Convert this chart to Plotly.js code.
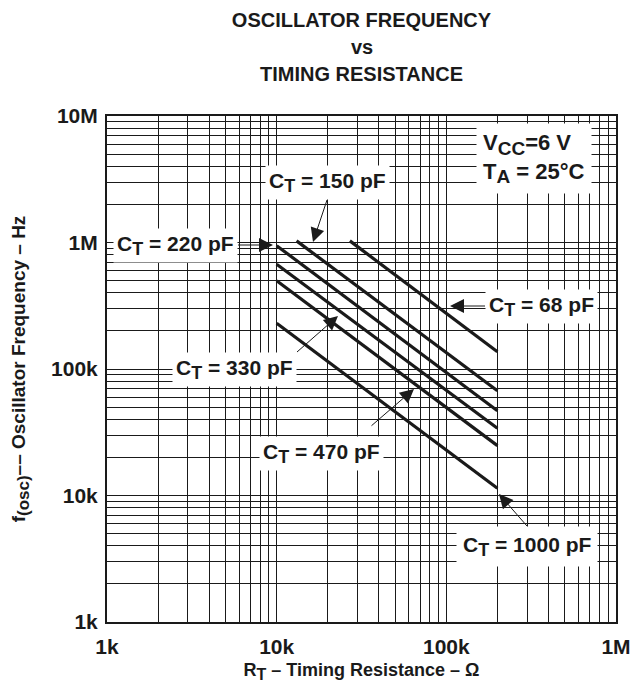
<!DOCTYPE html>
<html>
<head>
<meta charset="utf-8">
<script src="https://cdn.plot.ly/plotly-3.0.1.min.js"></script>
<style>html,body{margin:0;padding:0;background:#fff;}#chart{width:632px;height:690px;}</style>
</head>
<body>
<div id="chart"></div>
<script>
// Timing capacitance of each curve (pF)
var capLabels = ["68", "150", "220", "330", "470", "1000"];
// Start and end of each curve: timing resistance (ohm) and oscillator frequency (Hz)
var rStart = [27000, 13100, 10000, 10000, 10000, 10000];
var fStart = [1030000, 1030000, 944000, 672000, 499000, 230000];
var rEnd = [200000, 200000, 200000, 200000, 200000, 200000];
var fEnd = [137000, 67400, 46800, 34000, 24800, 11400];

// Tick values / labels
var xTickVals = [1e3, 1e4, 1e5, 1e6];
var xTickText = ["1k", "10k", "100k", "1M"];
var yTickVals = [1e3, 1e4, 1e5, 1e6, 1e7];
var yTickText = ["1k", "10k", "100k", "1M", "10M"];

function minorVals(lo, hi) {
  var out = [];
  for (var d = lo; d < hi; d *= 10) {
    for (var k = 2; k <= 9; k++) out.push(d * k);
  }
  return out;
}

var FONT = "Liberation Sans, Arial, Helvetica, sans-serif";
var INK = "#1a1a1a";

function sub(t, size) {
  return "<sub><span style='font-size:" + size + "px'>" + t + "</span></sub>";
}

var traces = capLabels.map(function (c, i) {
  return {
    x: [rStart[i], rEnd[i]],
    y: [fStart[i], fEnd[i]],
    mode: "lines",
    type: "scatter",
    name: "CT = " + c + " pF",
    line: { color: INK, width: 3.2 },
    hoverinfo: "x+y+name",
    showlegend: false
  };
});

// annotation placement helpers (plot area: x 107..616 px for 1k..1M, y 622..116 px for 1k..10M)
function px2x(px) { return 3 + (px - 107) / 169.67; }
function px2y(py) { return 3 + (622 - py) / 126.5; }

var labelFont = { family: FONT, size: 21, color: INK, weight: "bold" };
function ct(c) { return "C" + sub("T", 18) + " = " + c + " pF"; }

function label(txt, cx, cy) {
  return {
    text: txt, xref: "x", yref: "y", x: px2x(cx), y: px2y(cy),
    showarrow: false, bgcolor: "#fff", borderpad: 3,
    font: labelFont, xanchor: "center", yanchor: "middle"
  };
}
// label attached to an arrow: tip (hx,hy), tail (tx,ty), label anchored at tail
function arrowLabel(txt, hx, hy, tx, ty, xa, ya, pad) {
  return {
    text: txt, xref: "x", yref: "y", x: px2x(hx), y: px2y(hy),
    ax: tx - hx, ay: ty - hy,
    showarrow: true, arrowhead: 2, arrowsize: 2.8, arrowwidth: 1,
    arrowcolor: INK, standoff: 0,
    bgcolor: "#fff", borderpad: pad || 3,
    font: labelFont, xanchor: xa, yanchor: ya
  };
}
function arrow(hx, hy, tx, ty) {
  return {
    text: "", xref: "x", yref: "y", x: px2x(hx), y: px2y(hy),
    ax: tx - hx, ay: ty - hy,
    showarrow: true, arrowhead: 2, arrowsize: 2.8, arrowwidth: 1,
    arrowcolor: INK, standoff: 0
  };
}

var annotations = [
  arrowLabel(ct("150"), 313, 242, 327, 200, "center", "bottom"),
  arrowLabel(ct("220"), 273, 245, 238, 245, "right", "middle"),
  arrowLabel(ct("68"), 450, 306, 485, 306, "left", "middle"),
  arrowLabel(ct("330"), 338, 316, 297, 352, "right", "top"),
  label(ct("470"), 321, 453),
  arrow(414, 389, 370, 427),
  arrowLabel(ct("1000"), 499, 494, 527, 526, "center", "top", 6),
  {
    text: "V" + sub("CC", 19) + "=6 V<br>T" + sub("A", 19) + " = 25°C",
    xref: "x", yref: "y", x: px2x(534), y: px2y(158),
    showarrow: false, bgcolor: "#fff", borderpad: 6,
    font: { family: FONT, size: 22, color: INK, weight: "bold" },
    align: "left", xanchor: "center", yanchor: "middle"
  },
  {
    text: "vs", xref: "paper", yref: "paper", x: 0.5, y: (622 - 47) / 506,
    showarrow: false, xanchor: "center", yanchor: "middle",
    font: { family: FONT, size: 20, color: INK, weight: "bold" }
  },
  {
    text: "TIMING RESISTANCE", xref: "paper", yref: "paper", x: 0.5, y: (622 - 74) / 506,
    showarrow: false, xanchor: "center", yanchor: "middle",
    font: { family: FONT, size: 20, color: INK, weight: "bold" }
  }
];

var axisCommon = {
  type: "log",
  showline: true, mirror: true, linecolor: INK, linewidth: 2,
  showgrid: true, gridcolor: INK, gridwidth: 1,
  zeroline: false, ticks: "",
  tickmode: "array",
  tickfont: { family: FONT, size: 21, color: INK, weight: "bold" }
};

var layout = {
  width: 632, height: 690,
  margin: { l: 107, r: 16, t: 116, b: 68 },
  paper_bgcolor: "#fff", plot_bgcolor: "#fff",
  font: { family: FONT, color: INK },
  title: {
    text: "OSCILLATOR FREQUENCY",
    font: { family: FONT, size: 20, color: INK, weight: "bold" },
    x: 0.5, xref: "paper", xanchor: "center",
    y: 1 - 20 / 690, yref: "container", yanchor: "middle"
  },
  xaxis: Object.assign({}, axisCommon, {
    range: [3, 6],
    tickvals: xTickVals, ticktext: xTickText,
    ticklabelstandoff: 5,
    minor: { tickmode: "array", tickvals: minorVals(1e3, 1e6), showgrid: true, gridcolor: INK, gridwidth: 1, ticks: "" },
    title: { text: "R" + sub("T", 16) + " – Timing Resistance – Ω", font: { family: FONT, size: 18, color: INK, weight: "bold" }, standoff: 6 }
  }),
  yaxis: Object.assign({}, axisCommon, {
    range: [3, 7],
    tickvals: yTickVals, ticktext: yTickText,
    ticklabelstandoff: 3,
    minor: { tickmode: "array", tickvals: minorVals(1e3, 1e7), showgrid: true, gridcolor: INK, gridwidth: 1, ticks: "" },
    title: { text: "f" + sub("(osc)", 17) + "–– Oscillator Frequency – Hz", font: { family: FONT, size: 19, color: INK, weight: "bold" }, standoff: 20 }
  }),
  annotations: annotations,
  showlegend: false
};

Plotly.newPlot("chart", traces, layout, { displayModeBar: false, staticPlot: true });
</script>
</body>
</html>
